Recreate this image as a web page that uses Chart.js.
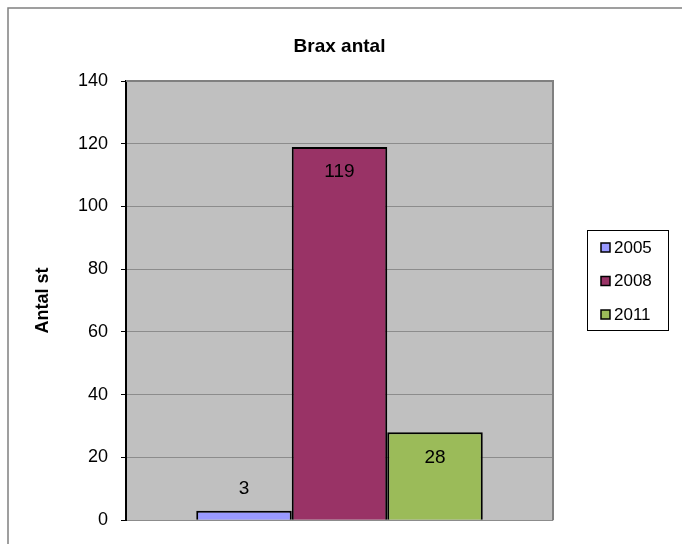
<!DOCTYPE html>
<html>
<head>
<meta charset="utf-8">
<script src="https://cdn.jsdelivr.net/npm/chart.js@4.4.0/dist/chart.umd.min.js"></script>
<style>
  html, body { margin: 0; padding: 0; background: #fff; }
  #wrap { width: 682px; height: 544px; }
</style>
</head>
<body>
<div id="wrap"><canvas id="brax"></canvas></div>
<script>
// values
const years = ["2005", "2008", "2011"];
const counts = [3, 119, 28];
const colors = ["#9999FF", "#993366", "#9BBB59"];
const yTicks = [0, 20, 40, 60, 80, 100, 120, 140];

const FONT = "'Liberation Sans', Arial, sans-serif";

// frame, gray plot area and the title centred over the plot
const background = {
    id: "background",
    beforeDraw(chart) {
        const c = chart.ctx, a = chart.chartArea;
        c.save();
        c.strokeStyle = "#808080";
        c.lineWidth = 1.5;
        c.strokeRect(8, 8, 700, 600);
        c.fillStyle = "#C0C0C0";
        c.fillRect(a.left, a.top, a.right - a.left, a.bottom - a.top);
        c.fillStyle = "#000";
        c.font = "bold 19px " + FONT;
        c.textAlign = "center";
        c.textBaseline = "alphabetic";
        c.fillText("Brax antal", (a.left + a.right) / 2, 52);
        c.restore();
    },
    afterDraw(chart) {
        const c = chart.ctx, a = chart.chartArea;
        c.save();
        c.strokeStyle = "#808080";
        c.lineWidth = 2;
        c.beginPath();
        c.moveTo(a.left, a.top);
        c.lineTo(a.right, a.top);
        c.lineTo(a.right, a.bottom);
        c.stroke();
        c.restore();
    }
};

// value labels like the Excel original
const valueLabels = {
    id: "valueLabels",
    afterDatasetsDraw(chart) {
        const c = chart.ctx;
        c.save();
        c.font = "19px " + FONT;
        c.fillStyle = "#000";
        c.textAlign = "center";
        c.textBaseline = "middle";
        chart.data.datasets.forEach((ds, i) => {
            const bar = chart.getDatasetMeta(i).data[0];
            const h = bar.base - bar.y;
            const y = h > 40 ? bar.y + 25 : bar.y - 22;
            c.fillText(String(ds.data[0]), bar.x, y);
        });
        c.restore();
    }
};

// boxed legend on the right
const sideLegend = {
    id: "sideLegend",
    afterDraw(chart) {
        const c = chart.ctx;
        const left = 587, top = 230, w = 81, h = 100;
        c.save();
        c.strokeStyle = "#000";
        c.lineWidth = 1;
        c.strokeRect(left + 0.5, top + 0.5, w, h);
        c.font = "17px " + FONT;
        c.textBaseline = "middle";
        c.textAlign = "left";
        chart.data.datasets.forEach((ds, i) => {
            const cy = top + 17 + i * 33.5;
            c.fillStyle = ds.backgroundColor;
            c.fillRect(left + 14, cy - 4, 9, 9);
            c.strokeStyle = "#000";
            c.lineWidth = 1.5;
            c.strokeRect(left + 14, cy - 4, 9, 9);
            c.fillStyle = "#000";
            c.fillText(ds.label, left + 27, cy + 1);
        });
        c.restore();
    }
};

new Chart(document.getElementById("brax"), {
    type: "bar",
    data: {
        labels: [""],
        datasets: years.map((y, i) => ({
            label: y,
            data: [counts[i]],
            backgroundColor: colors[i],
            borderColor: "#000",
            borderWidth: 2
        }))
    },
    options: {
        responsive: true,
        maintainAspectRatio: false,
        animation: false,
        layout: { padding: { left: 32, right: 129, top: 81, bottom: 22 } },
        datasets: { bar: { barPercentage: 1, categoryPercentage: 0.671 } },
        plugins: {
            legend: { display: false },
            tooltip: { enabled: false },
            title: { display: false }
        },
        scales: {
            x: { display: false },
            y: {
                min: 0,
                max: 140,
                afterFit(scale) { scale.width = 94; },
                afterBuildTicks(scale) { scale.ticks = yTicks.map(v => ({ value: v })); },
                title: {
                    display: true,
                    text: "Antal st",
                    color: "#000",
                    font: { family: FONT, size: 18, weight: "bold" },
                    padding: { top: 0, bottom: 0 }
                },
                ticks: {
                    color: "#000",
                    padding: 13,
                    font: { family: FONT, size: 18 }
                },
                grid: {
                    color: "#8c8c8c",
                    lineWidth: 1,
                    tickLength: 5,
                    tickColor: "#000"
                },
                border: { color: "#000", width: 2 }
            }
        }
    },
    plugins: [background, valueLabels, sideLegend]
});
</script>
</body>
</html>
